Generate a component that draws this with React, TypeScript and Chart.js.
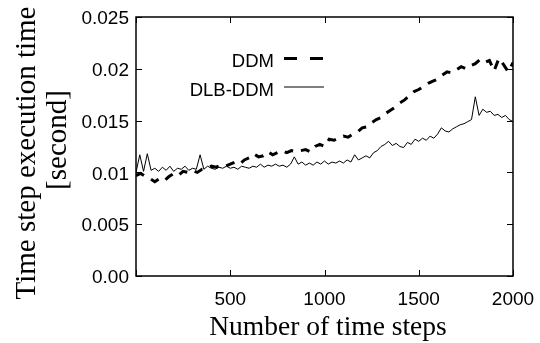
import { useEffect, useRef } from 'react';
import { Chart, registerables } from 'chart.js';

Chart.register(...registerables);

// ---- data ----
const SERIES_LABELS = ['DDM', 'DLB-DDM'];
const DDM_STEP = 25;
const DDM_VALUES = [
  0.0097, 0.0099, 0.0096, 0.0094, 0.0091, 0.0094, 0.0092, 0.0096, 0.0099, 0.0097,
  0.0101, 0.0100, 0.0102, 0.0100, 0.0103, 0.0104, 0.0106, 0.0105, 0.0107, 0.0106,
  0.0108, 0.0110, 0.0108, 0.0112, 0.0114, 0.0118, 0.0115, 0.0116, 0.0120, 0.0117,
  0.0119, 0.0121, 0.0119, 0.0121, 0.0120, 0.0121, 0.0122, 0.0120, 0.0125, 0.0127,
  0.0125, 0.0132, 0.0131, 0.0133, 0.0135, 0.0134, 0.0137, 0.0139, 0.0143, 0.0144,
  0.0148, 0.0151, 0.0153, 0.0157, 0.0160, 0.0163, 0.0167, 0.0170, 0.0174, 0.0178,
  0.0180, 0.0183, 0.0186, 0.0188, 0.0190, 0.0194, 0.0197, 0.0196, 0.0199, 0.0202,
  0.0200, 0.0203, 0.0205, 0.0209, 0.0206, 0.0208, 0.0198, 0.0210, 0.0204, 0.0197,
  0.0206,
];
const DLB_STEP = 20;
const DLB_VALUES = [
  0.0100, 0.0117, 0.0101, 0.0118, 0.0102, 0.0104, 0.0101, 0.0105, 0.0102, 0.0106,
  0.0101, 0.0104, 0.0103, 0.0106, 0.0102, 0.0104, 0.0103, 0.0117, 0.0103, 0.0106,
  0.0104, 0.0103, 0.0105, 0.0104, 0.0106, 0.0104, 0.0105, 0.0103, 0.0106, 0.0105,
  0.0104, 0.0106, 0.0105, 0.0108, 0.0105, 0.0107, 0.0106, 0.0108, 0.0106, 0.0107,
  0.0105, 0.0108, 0.0115, 0.0108, 0.0110, 0.0107, 0.0109, 0.0107, 0.0110, 0.0108,
  0.0111, 0.0108, 0.0110, 0.0109, 0.0111, 0.0109, 0.0112, 0.0110, 0.0117, 0.0112,
  0.0114, 0.0116, 0.0114, 0.0119, 0.0121, 0.0125, 0.0127, 0.0130, 0.0126, 0.0128,
  0.0125, 0.0124, 0.0129, 0.0127, 0.0132, 0.0130, 0.0133, 0.0131, 0.0135, 0.0133,
  0.0137, 0.0143, 0.0140, 0.0139, 0.0142, 0.0144, 0.0146, 0.0147, 0.0149, 0.0151,
  0.0173, 0.0155, 0.0161, 0.0158, 0.0159, 0.0155, 0.0156, 0.0153, 0.0155, 0.0151,
  0.0149,
];
const X_MIN = 0;
const X_MAX = 2000;
const X_TICK_STEP = 500;
const Y_MIN = 0;
const Y_MAX = 0.025;
const Y_TICK_STEP = 0.005;
const Y_TICK_LABELS = ['0.00', '0.005', '0.01', '0.015', '0.02', '0.025'];
const X_TITLE = 'Number of time steps';
const Y_TITLE = ['Time step execution time', '[second]'];

const SANS = '"Liberation Sans", Arial, sans-serif';
const SERIF = '"Liberation Serif", "Times New Roman", serif';

const decorPlugin = {
  id: 'decor',
  afterDatasetsDraw(chart: any) {
    const { ctx, chartArea } = chart;
    const { left, right, top, bottom } = chartArea;
    const xs = chart.scales.x;
    const ys = chart.scales.y;
    ctx.save();
    ctx.setLineDash([]);
    ctx.strokeStyle = '#000';
    ctx.lineWidth = 1;
    const tickLen = 6;
    ctx.beginPath();
    xs.ticks.forEach((t: any) => {
      const px = Math.round(xs.getPixelForValue(t.value)) + 0.5;
      ctx.moveTo(px, bottom);
      ctx.lineTo(px, bottom - tickLen);
      ctx.moveTo(px, top);
      ctx.lineTo(px, top + tickLen);
    });
    ys.ticks.forEach((t: any) => {
      const py = Math.round(ys.getPixelForValue(t.value)) + 0.5;
      ctx.moveTo(left, py);
      ctx.lineTo(left + tickLen, py);
      ctx.moveTo(right, py);
      ctx.lineTo(right - tickLen, py);
    });
    ctx.stroke();
    ctx.lineWidth = 1.5;
    ctx.strokeRect(left, top, right - left, bottom - top);

    // legend
    const ds = chart.data.datasets;
    ctx.fillStyle = '#000';
    ctx.font = `18.5px ${SANS}`;
    ctx.textAlign = 'right';
    ctx.textBaseline = 'alphabetic';
    const legendRows = [
      { y: 58.5, base: 66.5 },
      { y: 87, base: 95.5 },
    ];
    ds.forEach((d: any, i: number) => {
      const r = legendRows[i];
      ctx.fillText(d.label, 274, r.base);
      ctx.beginPath();
      ctx.lineWidth = d.borderWidth;
      ctx.setLineDash(d.borderDash ? [13, 13] : []);
      ctx.moveTo(284, r.y);
      ctx.lineTo(324, r.y);
      ctx.stroke();
    });
    ctx.setLineDash([]);

    // axis titles
    ctx.font = `27.5px ${SERIF}`;
    ctx.textAlign = 'center';
    ctx.fillText(X_TITLE, 328, 335);
    ctx.font = `29px ${SERIF}`;
    const yTitlePos = [
      { x: 35, y: 153 },
      { x: 66, y: 140 },
    ];
    Y_TITLE.forEach((line, i) => {
      ctx.save();
      ctx.translate(yTitlePos[i].x, yTitlePos[i].y);
      ctx.rotate(-Math.PI / 2);
      ctx.fillText(line, 0, 0);
      ctx.restore();
    });
    ctx.restore();
  },
};

export default function App() {
  const ref = useRef<HTMLCanvasElement | null>(null);
  useEffect(() => {
    if (!ref.current) return;
    const chart = new Chart(ref.current, {
      type: 'line',
      data: {
        datasets: [
          {
            label: SERIES_LABELS[0],
            data: DDM_VALUES.map((v, i) => ({ x: i * DDM_STEP, y: v })),
            borderColor: '#000',
            borderWidth: 3,
            borderDash: [9, 8],
            pointRadius: 0,
            tension: 0,
            fill: false,
          },
          {
            label: SERIES_LABELS[1],
            data: DLB_VALUES.map((v, i) => ({ x: i * DLB_STEP, y: v })),
            borderColor: '#000',
            borderWidth: 1,
            pointRadius: 0,
            tension: 0,
            fill: false,
          },
        ],
      },
      options: {
        responsive: false,
        animation: false,
        layout: { padding: { top: 17, right: 27, left: 0, bottom: 0 } },
        plugins: { legend: { display: false }, tooltip: { enabled: false } },
        scales: {
          x: {
            type: 'linear',
            min: X_MIN,
            max: X_MAX,
            grid: { display: false, drawTicks: false },
            border: { display: false },
            ticks: {
              stepSize: X_TICK_STEP,
              color: '#000',
              font: { family: SANS, size: 19 },
              padding: 12,
              maxRotation: 0,
              autoSkip: false,
              callback: (v: any) => (v === 0 ? '' : String(v)),
            },
            afterFit: (s: any) => {
              s.height = 67;
              s.paddingLeft = 0;
              s.paddingRight = 0;
            },
          },
          y: {
            min: Y_MIN,
            max: Y_MAX,
            grid: { display: false, drawTicks: false },
            border: { display: false },
            ticks: {
              stepSize: Y_TICK_STEP,
              color: '#000',
              font: { family: SANS, size: 19 },
              padding: 7,
              labelOffset: 2,
              callback: (_v: any, i: number) => Y_TICK_LABELS[i],
            },
            afterFit: (s: any) => {
              s.width = 136;
              s.paddingTop = 0;
              s.paddingBottom = 0;
            },
          },
        },
      },
      plugins: [decorPlugin],
    });
    return () => chart.destroy();
  }, []);
  return (
    <div style={{ position: 'fixed', left: 0, top: 0, width: 540, height: 343, background: '#fff' }}>
      <canvas ref={ref} width={540} height={343} style={{ display: 'block' }} />
    </div>
  );
}
